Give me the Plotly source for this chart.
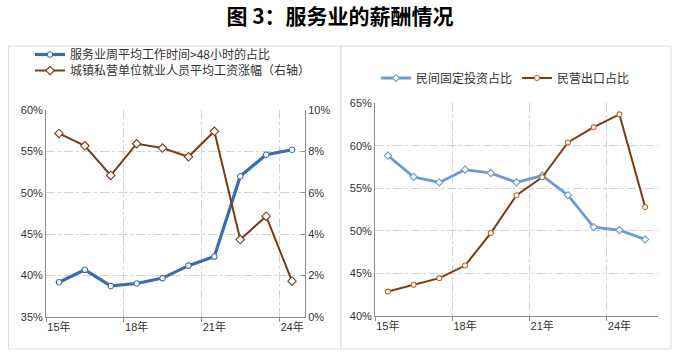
import plotly.graph_objects as go

# ---- data ----
left_years = ["15年", "16年", "17年", "18年", "19年", "20年", "21年", "22年", "23年", "24年"]
left_hours48 = [39.2, 40.7, 38.75, 39.05, 39.7, 41.2, 42.3, 52.0, 54.6, 55.2]
left_wage_growth = [8.87, 8.27, 6.84, 8.37, 8.16, 7.74, 8.97, 3.74, 4.87, 1.73]

right_years = ["15年", "16年", "17年", "18年", "19年", "20年", "21年", "22年", "23年", "24年", "25年"]
right_private_fai = [58.85, 56.35, 55.7, 57.2, 56.8, 55.7, 56.5, 54.2, 50.45, 50.1, 49.0]
right_private_export = [42.87, 43.66, 44.45, 45.93, 49.75, 54.2, 56.3, 60.4, 62.2, 63.7, 52.8]

tick_labels = ["15年", "18年", "21年", "24年"]

name_hours = "服务业周平均工作时间>48小时的占比"
name_wage = "城镇私营单位就业人员平均工资涨幅（右轴）"
name_fai = "民间固定投资占比"
name_export = "民营出口占比"

W, H = 680, 358

def px_x(p):
    return p / W

def px_y(p):
    return 1 - p / H

lx = list(range(len(left_years)))
rx = list(range(len(right_years)))
l_tickvals = [i for i, y in enumerate(left_years) if y in tick_labels]
l_ticktext = [left_years[i] for i in l_tickvals]
r_tickvals = [i for i, y in enumerate(right_years) if y in tick_labels]
r_ticktext = [right_years[i] for i in r_tickvals]

BLUE_DARK = "#3B6DB3"
BLUE_LIGHT = "#6E9BD4"
BROWN = "#7A3C16"
BROWN2 = "#7F3A12"
GRID = "#D3D3D3"
AXIS = "#8C8C8C"
TXT = "#333333"

fig = go.Figure()

fig.add_trace(go.Scatter(
    x=lx, y=left_hours48, name=name_hours, mode="lines+markers",
    line=dict(color=BLUE_DARK, width=3.2),
    marker=dict(symbol="circle", size=5.5, color="white", line=dict(color=BLUE_DARK, width=1.1)),
    xaxis="x", yaxis="y", legend="legend",
))
fig.add_trace(go.Scatter(
    x=lx, y=left_wage_growth, name=name_wage, mode="lines+markers",
    line=dict(color=BROWN, width=2),
    marker=dict(symbol="diamond", size=6.5, color="white", line=dict(color=BROWN, width=1.1)),
    xaxis="x", yaxis="y2", legend="legend3",
))
fig.add_trace(go.Scatter(
    x=rx, y=right_private_fai, name=name_fai, mode="lines+markers",
    line=dict(color=BLUE_LIGHT, width=2.8),
    marker=dict(symbol="diamond", size=5.5, color="white", line=dict(color=BLUE_LIGHT, width=1.1)),
    xaxis="x3", yaxis="y3", legend="legend2",
))
fig.add_trace(go.Scatter(
    x=rx, y=right_private_export, name=name_export, mode="lines+markers",
    line=dict(color=BROWN2, width=2),
    marker=dict(symbol="circle", size=5, color="white", line=dict(color="#C46A2A", width=1.1)),
    xaxis="x3", yaxis="y4", legend="legend2",
))

tickfont = dict(family="Arial, Liberation Sans, sans-serif", size=11, color=TXT)

def xaxis_common(n, tv, tt, dom, anchor):
    return dict(
        domain=dom, anchor=anchor, range=[-0.5, n - 0.5], automargin=False,
        tickmode="array", tickvals=tv, ticktext=tt,
        showgrid=False, zeroline=False,
        showline=True, linecolor=AXIS, linewidth=1,
        ticks="", tickfont=dict(family="Arial, Noto Sans CJK SC, sans-serif", size=11, color=TXT),
        minor=dict(tickmode="linear", tick0=2.5, dtick=3, showgrid=True,
                   gridcolor=GRID, griddash="dashdot", gridwidth=1,
                   ticks="outside", ticklen=4, tickcolor=AXIS),
        fixedrange=True,
    )

legend_font = dict(family="Noto Sans CJK SC", size=12, color=TXT)

fig.update_layout(
    width=W, height=H,
    margin=dict(l=0, r=0, t=0, b=0, autoexpand=False),
    paper_bgcolor="white", plot_bgcolor="white",
    showlegend=True,
    xaxis=xaxis_common(len(left_years), l_tickvals, l_ticktext, [px_x(46), px_x(305)], "y"),
    yaxis=dict(
        domain=[px_y(317), px_y(110)], anchor="x", range=[35, 60], dtick=5, automargin=False,
        ticksuffix="%", tickfont=tickfont, showgrid=True, gridcolor=GRID,
        griddash="dashdot", zeroline=False, showline=True, linecolor=AXIS, ticks="",
    ),
    yaxis2=dict(
        overlaying="y", side="right", anchor="x", range=[0, 10], dtick=2, automargin=False,
        ticksuffix="%", tickfont=tickfont, showgrid=False, zeroline=False,
        showline=True, linecolor=AXIS, ticks="inside", ticklen=4, tickcolor=AXIS,
    ),
    xaxis3=xaxis_common(len(right_years), r_tickvals, r_ticktext, [px_x(375), px_x(658)], "y3"),
    yaxis3=dict(
        domain=[px_y(316), px_y(103.3)], anchor="x3", range=[40, 65], dtick=5, automargin=False,
        ticksuffix="%", tickfont=tickfont, showgrid=True, gridcolor=GRID,
        griddash="dashdot", zeroline=False, showline=True, linecolor=AXIS, ticks="",
    ),
    yaxis4=dict(
        overlaying="y3", anchor="x3", range=[40, 65], visible=False, automargin=False,
    ),
    legend=dict(
        x=px_x(30), y=px_y(54.5), xanchor="left", yanchor="middle",
        orientation="v", bgcolor="rgba(0,0,0,0)", font=legend_font, itemwidth=30,
    ),
    legend3=dict(
        x=px_x(30), y=px_y(70.5), xanchor="left", yanchor="middle",
        orientation="v", bgcolor="rgba(0,0,0,0)", font=legend_font, itemwidth=30,
    ),
    legend2=dict(
        x=px_x(376), y=px_y(78), xanchor="left", yanchor="middle",
        orientation="h", bgcolor="rgba(0,0,0,0)",
        font=dict(family="Noto Sans CJK SC", size=12, color=TXT),
        itemwidth=30,
    ),
    title=dict(
        text="<b>图 3：服务业的薪酬情况</b>",
        x=0.5, xanchor="center", xref="paper", y=px_y(17), yref="container", yanchor="middle",
        font=dict(family="Noto Sans CJK SC", size=21, color="black"),
        automargin=False,
    ),
    shapes=[
        dict(type="rect", xref="paper", yref="paper",
             x0=px_x(8.5), x1=px_x(341), y0=px_y(349), y1=px_y(46),
             line=dict(color="#DDDDDD", width=1), layer="below"),
        dict(type="rect", xref="paper", yref="paper",
             x0=px_x(341), x1=px_x(671), y0=px_y(349), y1=px_y(46),
             line=dict(color="#DDDDDD", width=1), layer="below"),
    ],
)

fig.write_html(
    "out.html",
    config={"displayModeBar": False},
    post_script="document.body.style.margin='0';document.body.style.padding='0';",
)
